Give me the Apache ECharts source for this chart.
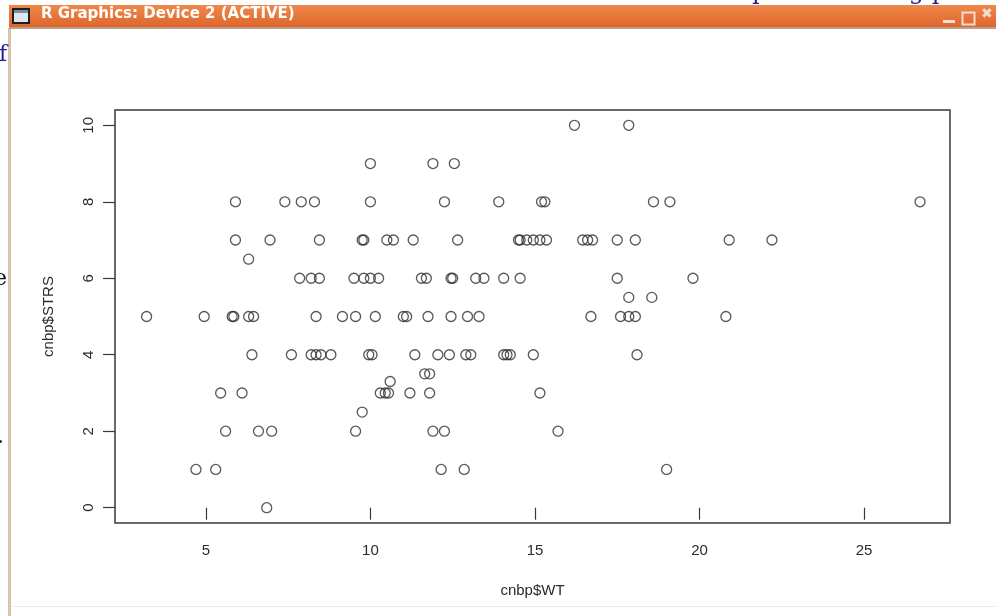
<!DOCTYPE html>
<html>
<head>
<meta charset="utf-8">
<script src="https://cdn.jsdelivr.net/npm/echarts@6/dist/echarts.min.js"></script>
<style>
  html, body { margin: 0; padding: 0; background: #fff; }
  #chart { width: 996px; height: 616px; }
</style>
</head>
<body>
<div id="chart"></div>
<script>
// cnbp$WT (x) and cnbp$STRS (y)
var wt = [
  16.2, 17.85,
  10.0, 11.9, 12.55,
  5.9, 7.4, 7.9, 8.3, 10.0, 12.25, 13.9, 15.2, 15.3, 18.6, 19.1, 26.7,
  5.9, 6.95, 8.45, 9.75, 9.8, 10.5, 10.7, 11.3, 12.65, 14.5, 14.55, 14.75, 14.95, 15.15, 15.35, 16.45, 16.6, 16.75, 17.5, 18.05, 20.9, 22.2,
  6.3,
  7.85, 8.2, 8.45, 9.5, 9.8, 10.0, 10.25, 11.55, 11.7, 12.45, 12.5, 13.2, 13.45, 14.05, 14.55, 17.5, 19.8,
  17.85, 18.55,
  3.2, 4.95, 5.8, 5.85, 6.3, 6.45, 8.35, 9.15, 9.55, 10.15, 11.0, 11.1, 11.75, 12.45, 12.95, 13.3, 16.7, 17.6, 17.85, 18.05, 20.8,
  6.4, 7.6, 8.2, 8.35, 8.5, 8.8, 9.95, 10.05, 11.35, 12.05, 12.4, 12.9, 13.05, 14.05, 14.15, 14.25, 14.95, 18.1,
  11.65, 11.8,
  10.6,
  5.45, 6.1, 10.3, 10.45, 10.55, 11.2, 11.8, 15.15,
  9.75,
  5.6, 6.6, 7.0, 9.55, 11.9, 12.25, 15.7,
  4.7, 5.3, 12.15, 12.85, 19.0,
  6.85
];
var strs = [
  10, 10,
  9, 9, 9,
  8, 8, 8, 8, 8, 8, 8, 8, 8, 8, 8, 8,
  7, 7, 7, 7, 7, 7, 7, 7, 7, 7, 7, 7, 7, 7, 7, 7, 7, 7, 7, 7, 7, 7,
  6.5,
  6, 6, 6, 6, 6, 6, 6, 6, 6, 6, 6, 6, 6, 6, 6, 6, 6,
  5.5, 5.5,
  5, 5, 5, 5, 5, 5, 5, 5, 5, 5, 5, 5, 5, 5, 5, 5, 5, 5, 5, 5, 5,
  4, 4, 4, 4, 4, 4, 4, 4, 4, 4, 4, 4, 4, 4, 4, 4, 4, 4,
  3.5, 3.5,
  3.3,
  3, 3, 3, 3, 3, 3, 3, 3,
  2.5,
  2, 2, 2, 2, 2, 2, 2,
  1, 1, 1, 1, 1,
  0
];
var xTicks = [5, 10, 15, 20, 25];
var yTicks = [0, 2, 4, 6, 8, 10];

var points = wt.map(function (w, i) { return [w, strs[i]]; });

var font = 'Liberation Sans, Arial, sans-serif';
var ink = '#2b2b2b';

var chart = echarts.init(document.getElementById('chart'));
chart.setOption({
  backgroundColor: '#ffffff',
  animation: false,
  grid: {
    left: 115, right: 46, top: 110, bottom: 93,
    show: true,
    borderColor: '#3a3a3a',
    borderWidth: 1.5,
    backgroundColor: 'transparent'
  },
  xAxis: {
    type: 'value',
    min: 2.24, max: 27.61,
    name: 'cnbp$WT',
    nameLocation: 'middle',
    nameGap: 60,
    nameTextStyle: { fontFamily: font, fontSize: 15, color: ink },
    axisLine: { show: false },
    splitLine: { show: false },
    axisTick: { show: true, inside: false, length: 12, customValues: xTicks, lineStyle: { color: '#3a3a3a', width: 1.2 } },
    axisLabel: { customValues: xTicks, margin: 20, fontFamily: font, fontSize: 15, color: ink }
  },
  yAxis: {
    type: 'value',
    min: -0.4, max: 10.4,
    name: 'cnbp$STRS',
    nameLocation: 'middle',
    nameGap: 59,
    nameRotate: 90,
    nameTextStyle: { fontFamily: font, fontSize: 15, color: ink },
    axisLine: { show: false },
    splitLine: { show: false },
    axisTick: { show: true, inside: false, length: 12, customValues: yTicks, lineStyle: { color: '#3a3a3a', width: 1.2 } },
    axisLabel: { customValues: yTicks, rotate: 90, margin: 19, fontFamily: font, fontSize: 15, color: ink }
  },
  series: [{
    type: 'scatter',
    data: points,
    symbol: 'circle',
    symbolSize: 10,
    itemStyle: { color: 'rgba(0,0,0,0)', borderColor: '#2e2e2e', borderWidth: 1.3 }
  }],
  graphic: [
    // window left border
    { type: 'rect', left: 8, top: 28, shape: { width: 3, height: 588 }, style: { fill: '#d9c3ad' }, silent: true },
    // title bar
    { type: 'rect', left: 9, top: 5, shape: { width: 990, height: 23 },
      style: { fill: new echarts.graphic.LinearGradient(0, 0, 0, 1, [
        { offset: 0, color: '#f0884a' }, { offset: 1, color: '#de642b' }]) }, silent: true },
    { type: 'rect', left: 9, top: 27, shape: { width: 990, height: 2 }, style: { fill: '#b9a08c' }, silent: true },
    // window icon
    { type: 'rect', left: 12, top: 8, shape: { width: 18, height: 16 }, style: { fill: '#1e1e1e' }, silent: true },
    { type: 'rect', left: 14, top: 10, shape: { width: 14, height: 12 }, style: { fill: '#dfe6ee' }, silent: true },
    { type: 'rect', left: 14, top: 10, shape: { width: 14, height: 3 }, style: { fill: '#7a8ea8' }, silent: true },
    { type: 'text', left: 41, top: 7, style: { text: 'R Graphics: Device 2 (ACTIVE)', font: 'bold 15px DejaVu Sans, sans-serif', fill: '#ffffff' }, silent: true },
    // window buttons
    { type: 'rect', left: 943, top: 20, shape: { width: 12, height: 3 }, style: { fill: '#f3ddd0' }, silent: true },
    { type: 'rect', left: 960, top: 10, shape: { width: 12, height: 12 }, style: { fill: 'none', stroke: '#f3ddd0', lineWidth: 2 }, silent: true },
    { type: 'text', left: 981, top: 7, style: { text: '✖', font: 'bold 14px DejaVu Sans, sans-serif', fill: '#f3ddd0' }, silent: true },
    // stray text from the page behind the window
    { type: 'text', left: 752, top: -19, style: { text: 'p', font: '24px DejaVu Serif, serif', fill: '#1f1f9a' }, silent: true },
    { type: 'text', left: 876, top: -19, style: { text: 'ting p', font: '24px DejaVu Serif, serif', fill: '#1f1f9a' }, silent: true },
    { type: 'text', left: -1, top: 44, style: { text: 'f', font: '22px DejaVu Serif, serif', fill: '#1f1f9a' }, silent: true },
    { type: 'text', left: -6, top: 268, style: { text: 'e', font: '22px DejaVu Serif, serif', fill: '#111111' }, silent: true },
    { type: 'text', left: -3, top: 426, style: { text: '.', font: '22px DejaVu Serif, serif', fill: '#111111' }, silent: true },
    // bottom edge of window content
    { type: 'rect', left: 11, top: 606, shape: { width: 985, height: 1 }, style: { fill: '#ececec' }, silent: true }
  ]
});
</script>
</body>
</html>
